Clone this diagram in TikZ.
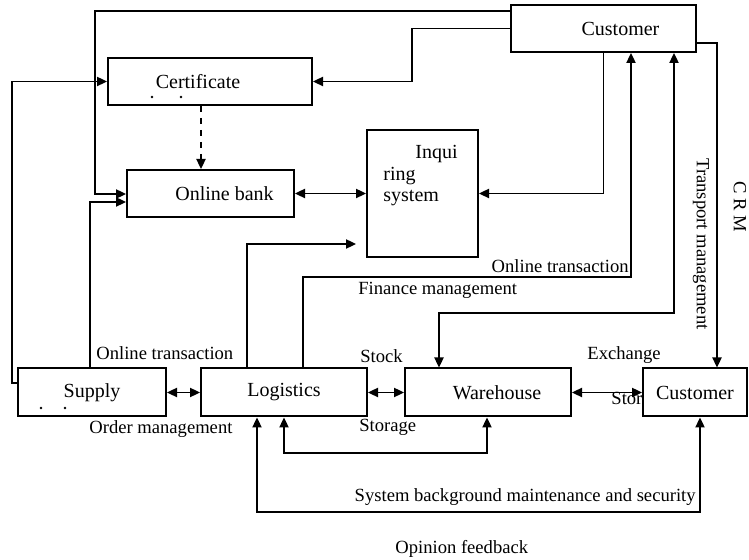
\documentclass[tikz,border=0pt]{standalone}
\usepackage{fontspec}
\setmainfont{Liberation Serif}
\usetikzlibrary{arrows.meta}

\begin{document}
\begin{tikzpicture}[x=0.5pt, y=-0.5pt,
	box/.style={draw, rectangle, line width=1pt, fill=white, inner sep=2pt, font=\fontsize{10}{12}\selectfont},
	arrow/.style={-{Triangle[length=5pt,width=4.6pt]}, line width=0.8pt},
	twoway/.style={{Triangle[length=5pt,width=4.6pt]}-{Triangle[length=5pt,width=4.6pt]}, line width=0.8pt},
	lbl/.style={inner sep=0pt, font=\fontsize{9.3}{11}\selectfont}
	]
	\useasboundingbox (0,0) rectangle (749,560);
	
	% Upper nodes
	\node[box, minimum width=92.5pt, minimum height=23.5pt] (custtop) at (603.5,28.5) {\hspace*{17pt}Customer};
	\node[box, minimum width=102pt, minimum height=23.5pt] (cert) at (210,81.5) {Certificate\hspace*{12pt}};
	\node[box, minimum width=83.5pt, minimum height=23.5pt] (bank) at (210.5,193.5) {\hspace*{14pt}Online bank};
	\node[box, minimum width=55.5pt, minimum height=63.5pt] (inquiry) at (422.5,193.5) {};
	\node[lbl, anchor=north west, align=left, font=\fontsize{10}{10.8}\selectfont] (inqtext) at (383,145) {\hspace*{16pt}Inqui\\ring\\system};
	
	% Lower nodes
	\node[lbl, anchor=base west] (storage2) at (611,405) {Stor};
	\node[box, minimum width=74pt, minimum height=24pt] (supply) at (92,392.5) {Supply};
	\node[box, minimum width=83pt, minimum height=24pt] (logistics) at (284,392.5) {Logistics};
	\node[box, minimum width=83pt, minimum height=24pt] (warehouse) at (488,392.5) {\hspace*{9pt}Warehouse};
	\node[box, minimum width=52pt, minimum height=24pt] (custbot) at (695,392.5) {Customer};
	
	% scan dots
	\fill (152,97) circle (0.7pt) (181,97) circle (0.7pt);
	\fill (41,408) circle (0.7pt) (65,408) circle (0.7pt);
	
	% Arrows round the left side
	\draw[arrow] (custtop.west |- 0,11) -- (95,11) |- (bank.west |- 0,194);
	\draw[arrow] (custtop.west) -- (412,28.5) |- (cert.east);
	\draw[arrow] (supply.west |- 0,383) -- (12,383) |- (cert.west);
	\draw[arrow] (supply.north -| 90,0) |- (bank.west |- 0,202);
	\draw[arrow, dashed] (cert.south -| 201,0) -- (bank.north -| 201,0);
	
	% Arrows in middle
	\draw[twoway] (bank.east) -- (inquiry.west);
	\draw[arrow] (custtop.south) |- (inquiry.east);
	\draw[arrow] (logistics.north -| 247,0) |- ([xshift=-5pt]inquiry.west |- 0,244);
	\draw[arrow] (logistics.north -| 303,0) |- (631,277) -- (custtop.south -| 631,0);
	\draw[twoway] (custtop.south -| 674,0) -- (674,313) -| (warehouse.north -| 439,0);
	\draw[arrow] (custtop.east |- 0,43) -| (custbot.north -| 717,0);
	
	% Arrows along the bottom row
	\draw[twoway] (supply.east) -- (logistics.west);
	\draw[twoway] (logistics.east) -- (warehouse.west);
	\draw[twoway] (warehouse.east) -- (custbot.west);
	\draw[twoway] (logistics.south -| 284,0) -- (284,453) -| (warehouse.south -| 487,0);
	\draw[twoway] (logistics.south -| 257,0) -- (257,512) -| (custbot.south -| 700,0);
	
	% Labels
	\node[lbl, anchor=base east] (onlinetr1) at (629,273) {Online transaction};
	\node[lbl, anchor=base west] (finance) at (358,295) {Finance management};
	\node[lbl, anchor=base west] (onlinetr2) at (96,360) {Online transaction};
	\node[lbl, anchor=base west] (order) at (89,434) {Order management};
	\node[lbl, anchor=base west] (stock) at (360,363) {Stock};
	\node[lbl, anchor=base west] (storage1) at (359,432) {Storage};
	\node[lbl, anchor=base west] (exchange) at (587,360) {Exchange};
	\node[lbl, anchor=base east] (maint) at (696,502) {System background maintenance and security};
	\node[lbl, anchor=base west] (opinion) at (395,553) {Opinion feedback};
	\node[lbl, rotate=-90] (transport) at (701,244) {Transport management};
	\node[lbl, rotate=-90] (crm) at (740,207) {C R M};
	
\end{tikzpicture}
\end{document}
